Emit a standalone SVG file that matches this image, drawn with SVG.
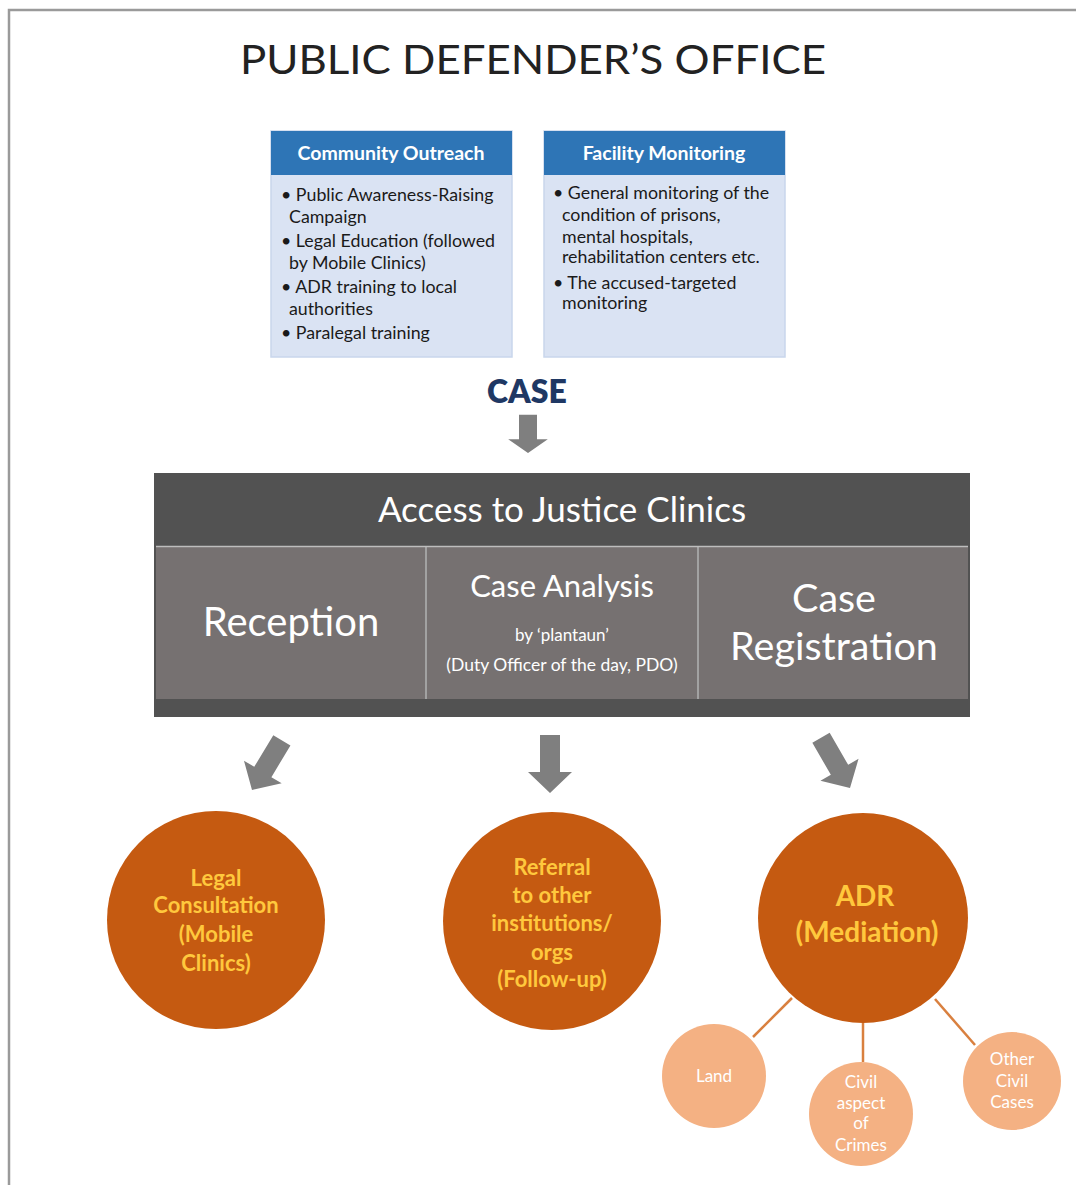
<svg xmlns="http://www.w3.org/2000/svg" width="1076" height="1185" viewBox="0 0 1076 1185">
<defs>
<style>
text{font-family:Lato,"Open Sans","Liberation Sans",sans-serif}
.hdr{fill:#2E75B6}
.body{fill:#DAE3F3;stroke:#C9D6EC;stroke-width:1.5}
.ht{fill:#fff;font-weight:700;font-size:19.5px;text-anchor:middle}
.bt{fill:#1a1a1a;font-size:17.8px}
.arrow{fill:#7F7F7F}
.big{fill:#C55A11}
.bigt{fill:#FFC83D;font-weight:700;font-size:22px;text-anchor:middle}
.adrt{fill:#FFC83D;font-weight:700;font-size:28px;text-anchor:middle}
.small{fill:#F4B183}
.smt{fill:#fff;font-size:17px;text-anchor:middle}
.cell{fill:#767171}
.wt{fill:#fff;text-anchor:middle}
.link{stroke:#D9803F;stroke-width:2.5}
</style>
<path id="arr" d="M-10,-58 H10 V-21 H22 L0,0 L-22,-21 H-10 Z"/>
</defs>
<rect width="1076" height="1185" fill="#fff"/>
<path d="M9,1185 V10 H1076" fill="none" stroke="#9a9a9a" stroke-width="2.5"/>
<text id="title" x="533" y="74" font-size="41" fill="#222" text-anchor="middle" textLength="586" lengthAdjust="spacingAndGlyphs">PUBLIC DEFENDER’S OFFICE</text>

<g id="community-outreach">
<rect class="body" x="271" y="131" width="241" height="226"/>
<rect class="hdr" x="271" y="131" width="241" height="44"/>
<text class="ht" x="391" y="160">Community Outreach</text>
<text class="bt" x="281" y="201">• Public Awareness-Raising</text>
<text class="bt" x="289" y="223">Campaign</text>
<text class="bt" x="281" y="247">• Legal Education (followed</text>
<text class="bt" x="289" y="269">by Mobile Clinics)</text>
<text class="bt" x="281" y="293">• ADR training to local</text>
<text class="bt" x="289" y="315">authorities</text>
<text class="bt" x="281" y="339">• Paralegal training</text>
</g>

<g id="facility-monitoring">
<rect class="body" x="544" y="131" width="241" height="226"/>
<rect class="hdr" x="544" y="131" width="241" height="44"/>
<text class="ht" x="664" y="160">Facility Monitoring</text>
<text class="bt" x="553" y="199">• General monitoring of the</text>
<text class="bt" x="562" y="221">condition of prisons,</text>
<text class="bt" x="562" y="243">mental hospitals,</text>
<text class="bt" x="562" y="263">rehabilitation centers etc.</text>
<text class="bt" x="553" y="289">• The accused-targeted</text>
<text class="bt" x="562" y="309">monitoring</text>
</g>

<g id="case">
<text x="527" y="403" font-size="32" font-weight="800" fill="#1F3864" text-anchor="middle">CASE</text>
</g>

<g id="clinics">
<rect x="154" y="473" width="816" height="244" fill="#525252"/>
<text class="wt" x="562" y="522" font-size="35">Access to Justice Clinics</text>
<rect class="cell" x="156" y="547" width="269" height="152"/>
<rect class="cell" x="427" y="547" width="270" height="152"/>
<rect class="cell" x="699" y="547" width="269" height="152"/>
<path d="M156,546.5 H968 M426,547 V699 M698,547 V699" stroke="#bdbdbd" stroke-width="1.5" fill="none"/>
</g>
<g id="reception">
<text class="wt" x="291" y="636" font-size="40">Reception</text>
</g>
<g id="case-analysis">
<text class="wt" x="562" y="597" font-size="31">Case Analysis</text>
<text class="wt" x="562" y="641" font-size="17">by ‘plantaun’</text>
<text class="wt" x="562" y="671" font-size="17.5">(Duty Officer of the day, PDO)</text>
</g>
<g id="case-registration">
<text class="wt" x="834" y="612" font-size="39.5">Case</text>
<text class="wt" x="834" y="660" font-size="39.5">Registration</text>
</g>

<g id="connectors">
<use href="#arr" class="arrow" transform="translate(528,453) scale(0.9,1) scale(1,0.66)"/>
<use href="#arr" class="arrow" transform="translate(252,790) rotate(31)"/>
<use href="#arr" class="arrow" transform="translate(550,793)"/>
<use href="#arr" class="arrow" transform="translate(850,788) rotate(-30)"/>
<line class="link" x1="792" y1="998" x2="753" y2="1037"/>
<line class="link" x1="863" y1="1023" x2="863" y2="1062"/>
<line class="link" x1="935" y1="999" x2="975" y2="1045"/>
</g>

<g id="legal-consultation">
<circle class="big" cx="216" cy="920" r="109"/>
<text class="bigt" x="216" y="886">Legal</text>
<text class="bigt" x="216" y="913">Consultation</text>
<text class="bigt" x="216" y="942">(Mobile</text>
<text class="bigt" x="216" y="971">Clinics)</text>
</g>
<g id="referral">
<circle class="big" cx="552" cy="921" r="109"/>
<text class="bigt" x="552" y="875">Referral</text>
<text class="bigt" x="552" y="903">to other</text>
<text class="bigt" x="552" y="931">institutions/</text>
<text class="bigt" x="552" y="960">orgs</text>
<text class="bigt" x="552" y="987">(Follow-up)</text>
</g>
<g id="adr">
<circle class="big" cx="863" cy="918" r="105"/>
<text class="adrt" x="865" y="906">ADR</text>
<text class="adrt" x="867" y="942">(Mediation)</text>
</g>
<g id="land">
<circle class="small" cx="714" cy="1076" r="52"/>
<text class="smt" x="714" y="1082">Land</text>
</g>
<g id="civil-aspect">
<circle class="small" cx="861" cy="1114" r="52"/>
<text class="smt" x="861" y="1088">Civil</text>
<text class="smt" x="861" y="1109">aspect</text>
<text class="smt" x="861" y="1129">of</text>
<text class="smt" x="861" y="1151">Crimes</text>
</g>
<g id="other-civil">
<circle class="small" cx="1012" cy="1081" r="49"/>
<text class="smt" x="1012" y="1065">Other</text>
<text class="smt" x="1012" y="1087">Civil</text>
<text class="smt" x="1012" y="1108">Cases</text>
</g>
</svg>
